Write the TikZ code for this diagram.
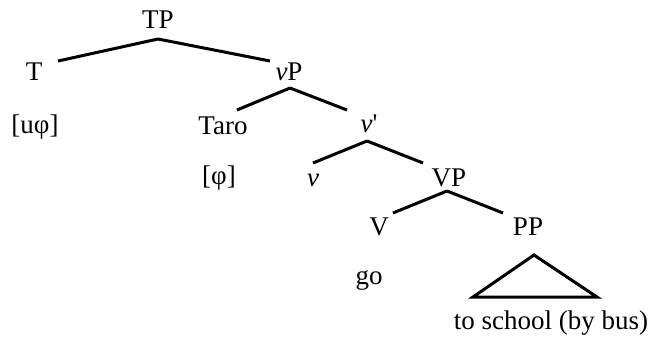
\documentclass[tikz,border=0pt]{standalone}
\usepackage{fontspec}
\setmainfont{Liberation Serif}
\usetikzlibrary{positioning}
\tikzstyle{word} = [font=\fontsize{27}{31}\selectfont, inner sep=0pt]
\tikzstyle{branch} = [line width=3pt]
\tikzstyle{roof} = [line width=3pt, line join=miter]

\begin{document}
\begin{tikzpicture}[x=1pt, y=1pt, node distance=54pt]
    \useasboundingbox (0,0) rectangle (651,-345);

    % Tree nodes
    \node (TP) [word] at (158,-20) {TP};
    \node (T) [word, below of=TP, xshift=-124pt, yshift=2pt] {T};
    \node (vP) [word, below of=TP, xshift=131pt, yshift=2pt] {\textit{v}P};

    \node (taro) [word, below of=vP, xshift=-66pt] {Taro};
    \node (vbar) [word, below of=vP, xshift=80pt, yshift=2pt] {\textit{v}\textquotesingle};

    \node (v) [word, below of=vbar, xshift=-56pt, yshift=-2pt] {\textit{v}};
    \node (VP) [word, below of=vbar, xshift=80pt] {VP};

    \node (V) [word, below of=VP, xshift=-70pt, yshift=5pt] {V};
    \node (PP) [word, below of=VP, xshift=79pt, yshift=5pt] {PP};

    % Features and words
    \node (T_feat) [word, below of=T, xshift=1pt, yshift=-1pt] {[uφ]};
    \node (taro_feat) [word, below of=taro, xshift=-4pt, yshift=2pt] {[φ]};
    \node (go) [word, below of=V, xshift=-10pt, yshift=1pt] {go};
    \node (school) [word, below of=PP, xshift=23pt, yshift=-42pt] {to school (by bus)};

    % ==== Branches
    \draw [branch] ([yshift=-19pt]TP.center) -- ([shift={(24pt,11pt)}]T.center);
    \draw [branch] ([yshift=-19pt]TP.center) -- ([shift={(-19pt,11pt)}]vP.center);

    \draw [branch] ([shift={(1pt,-16pt)}]vP.center) -- ([shift={(14pt,16pt)}]taro.center);
    \draw [branch] ([shift={(1pt,-16pt)}]vP.center) -- ([shift={(-22pt,14pt)}]vbar.center);

    \draw [branch] ([shift={(-2pt,-17pt)}]vbar.center) -- ([yshift=17pt]v.center);
    \draw [branch] ([shift={(-2pt,-17pt)}]vbar.center) -- ([shift={(-26pt,15pt)}]VP.center);

    \draw [branch] ([shift={(-2pt,-13pt)}]VP.center) -- ([shift={(14pt,14pt)}]V.center);
    \draw [branch] ([shift={(-2pt,-13pt)}]VP.center) -- ([shift={(-25pt,14pt)}]PP.center);

    % Roof over PP
    \draw [roof] ([shift={(6pt,-28pt)}]PP.center) -- ++(-61pt,-42pt) -- ++(124pt,0pt) -- cycle;

\end{tikzpicture}
\end{document}
